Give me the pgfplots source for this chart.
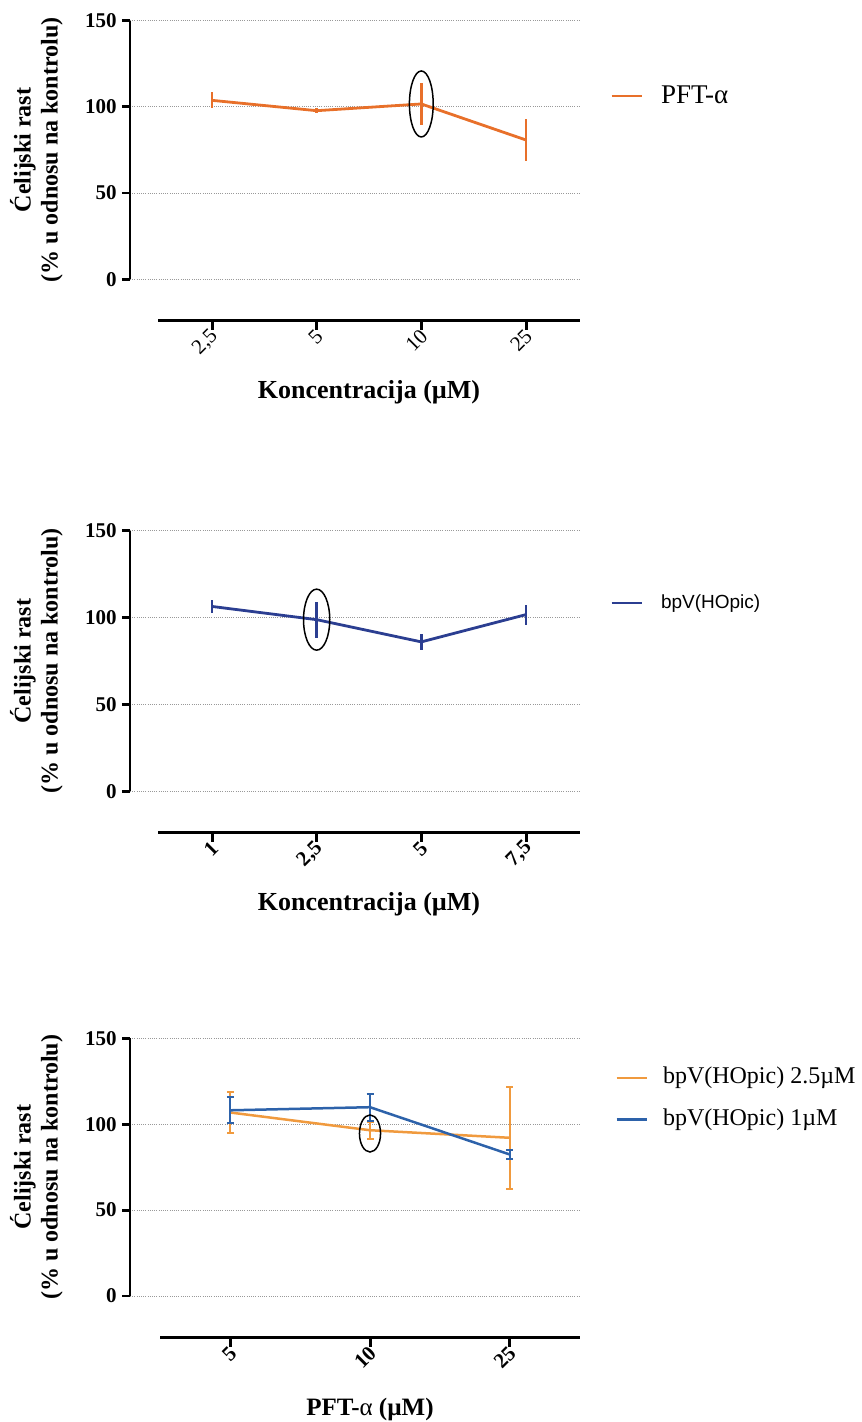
\documentclass[border=0pt]{standalone}
\usepackage{fontspec}
\setmainfont{Liberation Serif}
\newfontfamily\sansfont{Liberation Sans}
\usepackage{pgfplots}
\pgfplotsset{compat=1.18}
\definecolor{cA}{HTML}{E8702A}
\definecolor{cB}{HTML}{2B3E91}
\definecolor{cC}{HTML}{F09A3E}
\definecolor{cD}{HTML}{2D62AA}
\pgfplotsset{
  dataaxis/.style={
    scale only axis, anchor=north west, width=225pt,
    axis x line=none, axis y line=left,
    y axis line style={-, line width=1.4pt, black},
    ymin=0, ymax=150, ytick={0,50,100,150},
    ymajorgrids, major grid style={line width=0.4pt, gray!80, dash pattern=on 0.5pt off 0.6pt},
    tick align=outside, major tick length=4pt,
    ytick style={line width=1.4pt, black},
    yticklabel style={font=\bfseries\fontsize{10.5}{12}\selectfont, inner sep=2.5pt},
    /pgf/number format/assume math mode=true,
    clip=false,
    ylabel={Ćelijski rast\\(\% u odnosu na kontrolu)},
    ylabel style={at={(axis description cs:-0.2078,0.5)}, anchor=center, align=center,
      font=\bfseries\fontsize{12}{13.5}\selectfont},
    legend cell align=left,
    legend image code/.code={\draw[##1, line width=1.3pt] (0pt,0pt) -- (15pt,0pt);},
  },
  xaxis/.style={
    scale only axis, anchor=south west, height=1pt,
    axis y line=none, axis x line=bottom,
    x axis line style={-, line width=1.5pt, black},
    ymin=0, ymax=1,
    tick align=outside, major tick length=4.5pt,
    xtick style={line width=1.5pt, black},
    xticklabel style={rotate=45, anchor=east, inner sep=0pt, yshift=-2pt},
    xlabel style={at={(axis description cs:0.5,0)}, anchor=center, yshift=-36pt, font=\bfseries\fontsize{13}{15}\selectfont},
  },
}
\begin{document}
\begin{tikzpicture}
\useasboundingbox (0pt,0pt) rectangle (430.5pt,-711pt);
% ---------------- Panel 1
\begin{axis}[dataaxis, at={(65pt,-10.35pt)}, height=129.3pt, xmin=-0.783, xmax=3.516,
  legend style={at={(axis description cs:1.0667,0.709)}, anchor=west, draw=none, fill=none,
    font=\fontsize{13.5}{15}\selectfont, inner sep=0pt, nodes={inner sep=0pt}, column sep=9pt}]
\addplot[cA, line width=1.4pt, no markers, error bars/.cd, y dir=both, y explicit, error mark=none,
  error bar style={line width=1.3pt}]
  coordinates {(0,103.8) +- (0,4.6) (1,97.8) +- (0,1.5) (2,101.7) +- (0,12.1) (3,80.8) +- (0,12.1)};
\addlegendentry{PFT-α}
\addplot[forget plot, only marks, mark=o, mark size=16.5pt, mark options={xscale=0.36, line width=0.75pt, black}]
  coordinates {(2,101.7)};
\end{axis}
\begin{axis}[xaxis, at={(79pt,-160.35pt)}, width=211pt, xmin=-0.516, xmax=3.516,
  xtick={0,1,2,3}, xticklabels={{2,5},5,10,25},
  xticklabel style={font=\fontsize{10.5}{12}\selectfont},
  xlabel={Koncentracija (µM)}]
\addplot[draw=none] coordinates {(0,0.5)};
\end{axis}
% ---------------- Panel 2
\begin{axis}[dataaxis, at={(65pt,-265.35pt)}, height=130.3pt, xmin=-0.783, xmax=3.516,
  legend style={at={(axis description cs:1.0667,0.7226)}, anchor=west, draw=none, fill=none,
    font=\sansfont\fontsize{9.5}{12}\selectfont, inner sep=0pt, nodes={inner sep=0pt}, column sep=9pt}]
\addplot[cB, line width=1.4pt, no markers, error bars/.cd, y dir=both, y explicit, error mark=none,
  error bar style={line width=1.3pt}]
  coordinates {(0,106.4) +- (0,3.8) (1,98.8) +- (0,10.4) (2,86.0) +- (0,4.6) (3,101.7) +- (0,5.7)};
\addlegendentry{bpV(HOpic)}
\addplot[forget plot, only marks, mark=o, mark size=15.25pt, mark options={xscale=0.43, line width=0.75pt, black}]
  coordinates {(1,98.8)};
\end{axis}
\begin{axis}[xaxis, at={(79pt,-416.35pt)}, width=211pt, xmin=-0.516, xmax=3.516,
  xtick={0,1,2,3}, xticklabels={1,{2,5},5,{7,5}},
  xticklabel style={font=\bfseries\fontsize{10.5}{12}\selectfont},
  xlabel={Koncentracija (µM)}]
\addplot[draw=none] coordinates {(0,0.5)};
\end{axis}
% ---------------- Panel 3
\begin{axis}[dataaxis, at={(65pt,-519.15pt)}, height=128.85pt, xmin=-0.719, xmax=2.504,
  legend style={at={(axis description cs:1.0778,0.766)}, anchor=west, draw=none, fill=none,
    font=\fontsize{12}{14}\selectfont, inner sep=0pt, nodes={inner sep=0pt, text height=8.5pt, text depth=2.5pt}, column sep=7.5pt, row sep=9.8pt}]
\addplot[cC, line width=1.25pt, no markers, error bars/.cd, y dir=both, y explicit, error mark=-,
  error bar style={line width=1pt}, error mark options={line width=1pt, mark size=1.75pt, rotate=90}]
  coordinates {(0,106.8) +- (0,11.9) (1,96.5) +- (0,5.0) (2,92.1) +- (0,29.6)};
\addlegendentry{bpV(HOpic) 2.5µM}
\addplot[cD, line width=1.25pt, no markers, error bars/.cd, y dir=both, y explicit, error mark=-,
  error bar style={line width=1pt}, error mark options={line width=1pt, mark size=1.75pt, rotate=90}]
  coordinates {(0,108.1) +- (0,7.6) (1,109.9) +- (0,7.8) (2,82.4) +- (0,2.4)};
\addlegendentry{bpV(HOpic) 1µM}
\addplot[forget plot, only marks, mark=o, mark size=9.25pt, mark options={xscale=0.57, line width=0.75pt, black}]
  coordinates {(1,94.6)};
\end{axis}
\begin{axis}[xaxis, at={(80pt,-668.85pt)}, width=210pt, xmin=-0.504, xmax=2.504,
  xtick={0,1,2}, xticklabels={5,10,25},
  xticklabel style={font=\bfseries\fontsize{10.5}{12}\selectfont},
  xlabel={PFT-{\mdseries α} (µM)}, xlabel style={font=\bfseries\fontsize{12.5}{15}\selectfont}]
\addplot[draw=none] coordinates {(0,0.5)};
\end{axis}
\end{tikzpicture}
\end{document}
